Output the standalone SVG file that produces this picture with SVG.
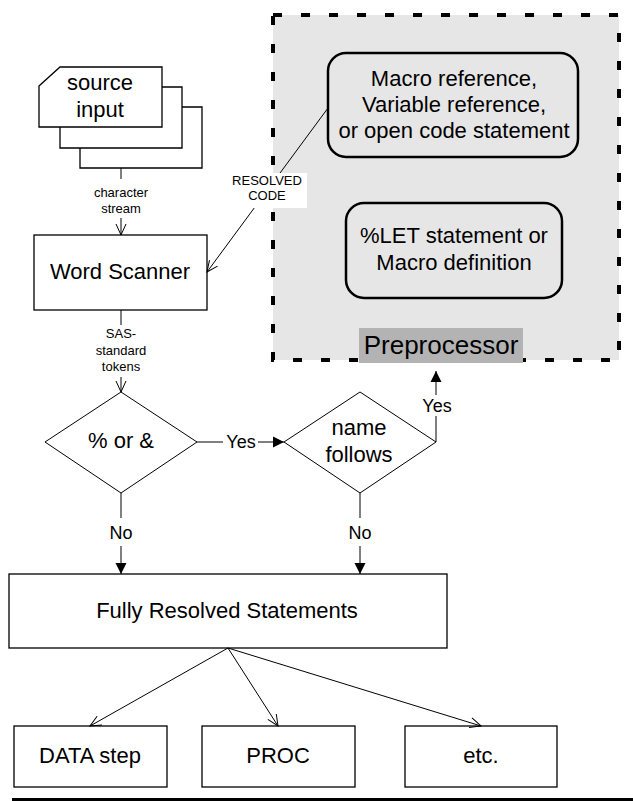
<svg xmlns="http://www.w3.org/2000/svg" width="633" height="801" viewBox="0 0 633 801">
<style>
text{font-family:"Liberation Sans",Arial,sans-serif;fill:#000;text-anchor:middle}
.big{font-size:22px}
.sm{font-size:13px}
.lbl{font-size:18px}
.box{fill:#fff;stroke:#000;stroke-width:1.3}
.rbox{fill:none;stroke:#000;stroke-width:2.5}
.ln{fill:none;stroke:#000;stroke-width:1}
</style>
<defs>
<marker id="open" viewBox="-13 -7 14 14" refX="0" refY="0" markerWidth="14" markerHeight="14" markerUnits="userSpaceOnUse" orient="auto">
<path d="M -11 -5 L 0 0 L -11 5" fill="none" stroke="#000" stroke-width="1"/>
</marker>
<marker id="solid" viewBox="-13 -7 14 14" refX="0" refY="0" markerWidth="14" markerHeight="14" markerUnits="userSpaceOnUse" orient="auto">
<path d="M -11 -5.5 L 0 0 L -11 5.5 Z" fill="#000"/>
</marker>
</defs>

<g id="preprocessor">
<rect x="273" y="15" width="346" height="345" fill="#e6e6e6"/>
<rect x="273" y="15" width="346" height="345" fill="none" stroke="#000" stroke-width="4" stroke-dasharray="9 19"/>
<rect x="359" y="328" width="164" height="35" fill="#b3b3b3"/>
<text x="441" y="354" style="font-size:26px">Preprocessor</text>
</g>

<g id="macro-ref">
<rect class="rbox" x="328" y="53" width="250" height="104" rx="18"/>
<text class="big" x="454" y="86">Macro reference,</text>
<text class="big" x="454" y="112">Variable reference,</text>
<text class="big" x="454" y="138">or open code statement</text>
</g>

<g id="let-stmt">
<rect class="rbox" x="346" y="203" width="216" height="95" rx="18"/>
<text class="big" x="454" y="243">%LET statement or</text>
<text class="big" x="454" y="270">Macro definition</text>
</g>

<g id="source-input">
<path class="box" d="M80 148 V168 H202 V107 H182"/>
<path class="box" d="M60 127 V148 H182 V87 H162"/>
<path class="box" d="M39 86 L60 67 H162 V127 H39 Z"/>
<text class="big" x="100" y="90">source</text>
<text class="big" x="100" y="117">input</text>
</g>

<g id="word-scanner">
<rect class="box" x="34" y="235" width="173" height="75"/>
<text class="big" x="120" y="279">Word Scanner</text>
</g>

<g id="pct-amp">
<polygon class="box" style="stroke-width:1" points="121,392 197,442 121,493 45,442"/>
<text class="big" x="121" y="448">% or &amp;</text>
</g>

<g id="name-follows">
<polygon class="box" style="stroke-width:1" points="360,392 436,442 360,493 284,442"/>
<text class="big" x="359" y="435">name</text>
<text class="big" x="359" y="462">follows</text>
</g>

<g id="fully-resolved">
<rect class="box" x="9" y="574" width="438" height="74"/>
<text class="big" x="227" y="618">Fully Resolved Statements</text>
</g>

<g id="data-step">
<rect class="box" x="14" y="726" width="153" height="61"/>
<text class="big" x="90" y="763">DATA step</text>
</g>

<g id="proc">
<rect class="box" x="202" y="726" width="153" height="61"/>
<text class="big" x="278" y="763">PROC</text>
</g>

<g id="etc">
<rect class="box" x="405" y="726" width="152" height="61"/>
<text class="big" x="481" y="763">etc.</text>
</g>

<g id="connectors">
<line class="ln" x1="121" y1="168" x2="121" y2="179"/>
<text class="sm" x="121" y="197">character</text>
<text class="sm" x="121" y="213">stream</text>
<line class="ln" x1="121" y1="218" x2="121" y2="235" marker-end="url(#open)"/>

<line class="ln" x1="328" y1="108" x2="207" y2="272" marker-end="url(#open)"/>
<rect x="229" y="173" width="78" height="35" fill="#fff"/>
<text class="sm" x="267" y="185">RESOLVED</text>
<text class="sm" x="267" y="200">CODE</text>

<line class="ln" x1="121" y1="310" x2="121" y2="325"/>
<text class="sm" x="121" y="338">SAS-</text>
<text class="sm" x="121" y="355">standard</text>
<text class="sm" x="121" y="371">tokens</text>
<line class="ln" x1="121" y1="377" x2="121" y2="392" marker-end="url(#open)"/>

<line class="ln" x1="197" y1="442" x2="223" y2="442"/>
<text class="lbl" x="241" y="448">Yes</text>
<line class="ln" x1="258" y1="442" x2="284" y2="442" marker-end="url(#solid)"/>

<line class="ln" x1="436" y1="442" x2="436" y2="416"/>
<text class="lbl" x="437" y="412">Yes</text>
<line class="ln" x1="436" y1="395" x2="436" y2="371" marker-end="url(#solid)"/>

<line class="ln" x1="121" y1="493" x2="121" y2="518"/>
<text class="lbl" x="121" y="539">No</text>
<line class="ln" x1="121" y1="546" x2="121" y2="574" marker-end="url(#solid)"/>

<line class="ln" x1="360" y1="493" x2="360" y2="518"/>
<text class="lbl" x="360" y="539">No</text>
<line class="ln" x1="360" y1="546" x2="360" y2="574" marker-end="url(#solid)"/>

<line class="ln" x1="228" y1="648" x2="90" y2="726" marker-end="url(#open)"/>
<line class="ln" x1="228" y1="648" x2="278" y2="726" marker-end="url(#open)"/>
<line class="ln" x1="228" y1="648" x2="481" y2="726" marker-end="url(#open)"/>
</g>

<rect x="12" y="798" width="621" height="3" fill="#000"/>
</svg>
